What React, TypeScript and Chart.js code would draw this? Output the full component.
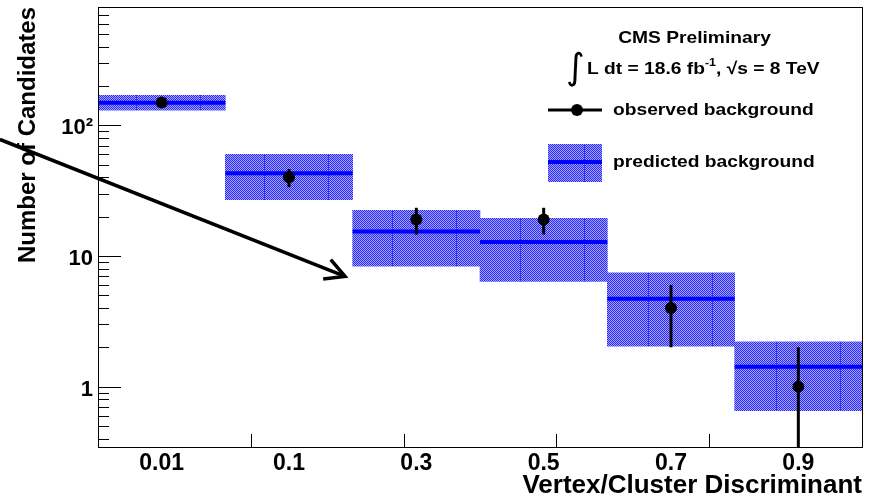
import React, { useEffect, useRef } from 'react';
import { Chart, registerables } from 'chart.js';

Chart.register(...registerables);

// Bins of the vertex/cluster discriminant
const binLabels = ['0.01', '0.1', '0.3', '0.5', '0.7', '0.9'];

// Observed background counts with their (Poisson) uncertainties
const observed = [150, 40, 19, 19, 4, 1];
const observedErr = [12.2, 6.3, 4.4, 4.4, 2, 1];

// Predicted background: central value and the uncertainty band
const predicted = [149, 43, 15.4, 12.8, 4.7, 1.42];
const predictedLow = [131, 27, 8.35, 6.4, 2.04, 0.655];
const predictedHigh = [170, 60, 22.4, 19.4, 7.43, 2.2];

// Axis ticks
const yLabelValues = [1, 10, 100];
const yLabelTexts = ['1', '10', '10²'];
const yMin = 0.345;
const yMax = 806;
const xDivisionMarks = [1.2, 2.4, 3.6, 4.8];

// Annotation arrow (bin units, counts)
const arrowStart = { bin: -0.77, count: 78 };
const arrowEnd = { bin: 1.94, count: 6.97 };

const FONT = '"Liberation Sans", Arial, sans-serif';
const STRETCH = 1.13;

// Fine blue checkerboard used for the uncertainty band
function makeHatch(ctx: CanvasRenderingContext2D): CanvasPattern {
  const tile = document.createElement('canvas');
  tile.width = 64;
  tile.height = 2;
  const g = tile.getContext('2d')!;
  for (let x = 0; x < tile.width; x++) {
    for (let y = 0; y < tile.height; y++) {
      g.fillStyle = (x + y) % 2 === 0 ? 'rgb(40,40,255)' : 'rgb(165,165,255)';
      g.fillRect(x, y, 1, 1);
    }
  }
  g.fillStyle = 'rgb(50,50,245)';
  g.fillRect(0, 0, 1, 2);
  const p = ctx.createPattern(tile, 'repeat')!;
  p.setTransform(new DOMMatrix().translate(8, 0));
  return p;
}

function stretchedText(
  ctx: CanvasRenderingContext2D,
  text: string,
  x: number,
  y: number,
  font: string,
  align: CanvasTextAlign = 'left'
): number {
  ctx.save();
  ctx.font = font;
  ctx.textAlign = align;
  ctx.textBaseline = 'alphabetic';
  ctx.fillStyle = '#000';
  ctx.translate(x, y);
  ctx.scale(STRETCH, 1);
  ctx.fillText(text, 0, 0);
  const w = ctx.measureText(text).width * STRETCH;
  ctx.restore();
  return w;
}

function minorTicks(): number[] {
  const out: number[] = [];
  for (const decade of [0.1, 1, 10, 100]) {
    for (let k = 2; k <= 9; k++) {
      const v = +(k * decade).toPrecision(3);
      if (v >= yMin && v <= yMax) out.push(v);
    }
  }
  return out;
}

export default function App() {
  const ref = useRef<HTMLCanvasElement>(null);

  useEffect(() => {
    const canvas = ref.current!;
    const ctx0 = canvas.getContext('2d')!;
    const hatch = makeHatch(ctx0);

    const steps: { x: number; y: number | null }[] = [];
    predicted.forEach((v, i) => {
      steps.push({ x: i, y: v }, { x: i + 1, y: v }, { x: i + 1, y: null });
    });

    const decorations = {
      id: 'decorations',
      afterDatasetsDraw(chart: any) {
        const { ctx, chartArea: a, scales } = chart;
        const x = scales.x;
        const y = scales.y;
        ctx.save();
        ctx.beginPath();
        ctx.rect(a.left, a.top, a.right - a.left, a.bottom - a.top);
        ctx.clip();
        ctx.strokeStyle = '#000';
        ctx.lineWidth = 3;
        observed.forEach((v, i) => {
          const px = x.getPixelForValue(i + 0.5);
          const hi = v + observedErr[i];
          const lo = Math.max(v - observedErr[i], y.min);
          ctx.beginPath();
          ctx.moveTo(px, y.getPixelForValue(hi));
          ctx.lineTo(px, y.getPixelForValue(lo));
          ctx.stroke();
        });
        ctx.restore();
      },
      afterDraw(chart: any) {
        const { ctx, chartArea: a, scales } = chart;
        const x = scales.x;
        const y = scales.y;
        ctx.save();
        // frame
        ctx.strokeStyle = '#000';
        ctx.lineWidth = 1;
        ctx.strokeRect(a.left + 0.5, a.top + 0.5, a.right - a.left, a.bottom - a.top);
        // y tick marks
        ctx.beginPath();
        yLabelValues.forEach((v) => {
          const py = Math.round(y.getPixelForValue(v)) + 0.5;
          ctx.moveTo(a.left, py);
          ctx.lineTo(a.left + 23, py);
        });
        minorTicks().forEach((v) => {
          const py = Math.round(y.getPixelForValue(v)) + 0.5;
          ctx.moveTo(a.left, py);
          ctx.lineTo(a.left + 11, py);
        });
        // x tick marks
        xDivisionMarks.forEach((v) => {
          const px = Math.round(x.getPixelForValue(v)) + 0.5;
          ctx.moveTo(px, a.bottom);
          ctx.lineTo(px, a.bottom - 13);
        });
        ctx.stroke();

        // legend block
        const L = a.right - 314;
        const T = a.top;
        stretchedText(ctx, 'CMS Preliminary', a.right - 167.5, T + 36.3, `bold 17px ${FONT}`, 'center');

        ctx.font = '36px "DejaVu Sans"';
        ctx.fillStyle = '#000';
        ctx.textAlign = 'left';
        ctx.textBaseline = 'alphabetic';
        ctx.fillText('∫', L + 18, T + 72);

        let cx = L + 39;
        const base = T + 67.3;
        cx += stretchedText(ctx, 'L dt = 18.6 fb', cx, base, `bold 17px ${FONT}`);
        cx += stretchedText(ctx, '-1', cx, base - 8, `bold 11px ${FONT}`);
        stretchedText(ctx, ', √s = 8 TeV', cx, base, `bold 17px ${FONT}`);

        // observed entry
        ctx.strokeStyle = '#000';
        ctx.lineWidth = 3;
        ctx.beginPath();
        ctx.moveTo(L, T + 103);
        ctx.lineTo(L + 54, T + 103);
        ctx.stroke();
        ctx.beginPath();
        ctx.arc(L + 29, T + 103, 6, 0, Math.PI * 2);
        ctx.fillStyle = '#000';
        ctx.fill();
        stretchedText(ctx, 'observed background', L + 65, T + 108, `bold 17px ${FONT}`);

        // predicted entry
        ctx.fillStyle = hatch;
        ctx.fillRect(L, T + 137, 54, 38);
        ctx.strokeStyle = '#0000ff';
        ctx.lineWidth = 4;
        ctx.beginPath();
        ctx.moveTo(L, T + 155);
        ctx.lineTo(L + 54, T + 155);
        ctx.stroke();
        stretchedText(ctx, 'predicted background', L + 65, T + 160, `bold 17px ${FONT}`);

        // arrow
        const x0 = x.getPixelForValue(arrowStart.bin);
        const y0 = y.getPixelForValue(arrowStart.count);
        const x1 = x.getPixelForValue(arrowEnd.bin);
        const y1 = y.getPixelForValue(arrowEnd.count);
        const ang = Math.atan2(y1 - y0, x1 - x0);
        const head = 22;
        const spread = (28 * Math.PI) / 180;
        ctx.strokeStyle = '#000';
        ctx.lineWidth = 3.5;
        ctx.lineJoin = 'miter';
        ctx.beginPath();
        ctx.moveTo(x0, y0);
        ctx.lineTo(x1, y1);
        ctx.stroke();
        ctx.beginPath();
        ctx.moveTo(x1 - head * Math.cos(ang - spread), y1 - head * Math.sin(ang - spread));
        ctx.lineTo(x1, y1);
        ctx.lineTo(x1 - head * Math.cos(ang + spread), y1 - head * Math.sin(ang + spread));
        ctx.stroke();
        ctx.restore();
      },
    };

    const chart = new Chart(canvas, {
      type: 'bar',
      data: {
        datasets: [
          {
            type: 'scatter',
            label: 'observed background',
            data: observed.map((v, i) => ({ x: i + 0.5, y: v })),
            pointRadius: 6,
            pointBackgroundColor: '#000',
            pointBorderWidth: 0,
            order: 1,
          } as any,
          {
            type: 'line',
            label: 'predicted background',
            data: steps,
            borderColor: '#0000ff',
            borderWidth: 4,
            pointRadius: 0,
            spanGaps: false,
            fill: false,
            order: 2,
          } as any,
          {
            type: 'bar',
            label: 'prediction uncertainty',
            data: predictedLow.map((lo, i) => ({ x: i + 0.5, y: [lo, predictedHigh[i]] })),
            backgroundColor: hatch,
            borderWidth: 0,
            barPercentage: 1,
            categoryPercentage: 1,
            order: 3,
          } as any,
        ],
      },
      options: {
        responsive: false,
        animation: false,
        devicePixelRatio: 1,
        events: [],
        layout: { padding: { left: 0, right: 13, top: 7, bottom: 0 } },
        plugins: {
          legend: { display: false },
          tooltip: { enabled: false },
        },
        scales: {
          x: {
            type: 'linear',
            min: 0,
            max: 6,
            bounds: 'data',
            offset: false,
            grid: { display: false, drawTicks: false },
            border: { display: false },
            afterBuildTicks: (s: any) => {
              s.ticks = binLabels.map((_, i) => ({ value: i + 0.5 }));
            },
            afterFit: (s: any) => {
              s.height = 52;
              s.paddingLeft = 0;
              s.paddingRight = 0;
            },
            ticks: {
              autoSkip: false,
              maxRotation: 0,
              padding: 3,
              color: '#000',
              font: { family: FONT, size: 23, weight: 'bold' },
              callback: (_v: any, i: number) => binLabels[i],
            },
            title: {
              display: true,
              text: 'Vertex/Cluster Discriminant',
              align: 'end',
              color: '#000',
              padding: 0,
              font: { family: FONT, size: 26, weight: 'bold', lineHeight: 1 },
            },
          },
          y: {
            type: 'logarithmic',
            min: yMin,
            max: yMax,
            bounds: 'data',
            grid: { display: false, drawTicks: false },
            border: { display: false },
            afterBuildTicks: (s: any) => {
              s.ticks = yLabelValues.map((v) => ({ value: v }));
            },
            afterFit: (s: any) => {
              s.width = 98;
              s.paddingTop = 0;
              s.paddingBottom = 0;
            },
            ticks: {
              autoSkip: false,
              padding: 5,
              labelOffset: 3,
              color: '#000',
              font: { family: FONT, size: 22, weight: 'bold' },
              callback: (v: any) => {
                const k = yLabelValues.indexOf(Number(v));
                return k >= 0 ? yLabelTexts[k] : '';
              },
            },
            title: {
              display: true,
              text: 'Number of Candidates',
              align: 'end',
              color: '#000',
              padding: { top: 16, bottom: 0 },
              font: { family: FONT, size: 24, weight: 'bold', lineHeight: 1 },
            },
          },
        },
      },
      plugins: [decorations],
    } as any);

    return () => chart.destroy();
  }, []);

  return (
    <canvas
      ref={ref}
      width={875}
      height={499}
      style={{ position: 'fixed', left: 0, top: 0, display: 'block' }}
    />
  );
}
